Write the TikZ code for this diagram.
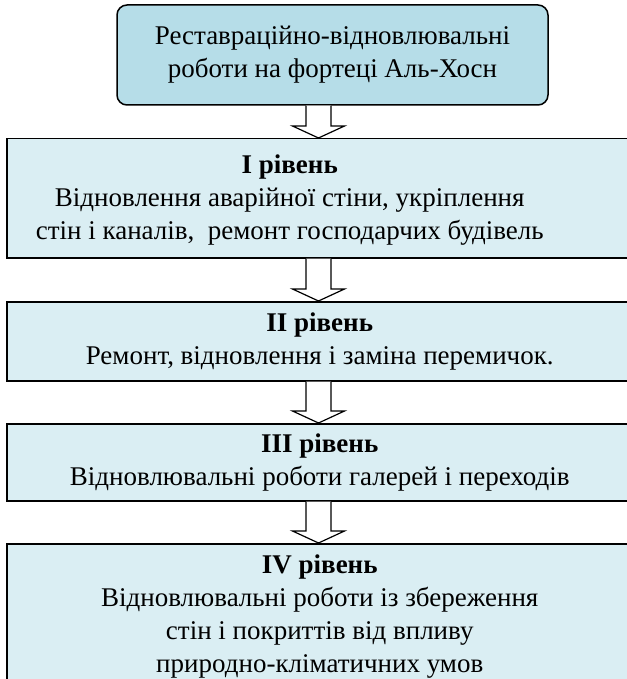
\documentclass[tikz,border=0pt]{standalone}
\usepackage{fontspec}
\setmainfont{Liberation Serif}
\usetikzlibrary{positioning,calc}
\definecolor{boxteal}{HTML}{B6DDE8}
\definecolor{lightteal}{HTML}{DAEEF3}

\begin{document}
\begin{tikzpicture}[x=1pt, y=-1pt,
  every node/.style={font=\fontsize{27}{33}\selectfont, align=center},
  lvlbox/.style={draw=black, line width=1.5pt, fill=lightteal, minimum width=626pt, anchor=north west, inner sep=0pt},
  topbox/.style={draw=black, line width=1.5pt, fill=boxteal, rounded corners=10pt, minimum width=431pt, minimum height=100pt, inner sep=0pt},
  blockarrow/.style={draw=black, line width=1.2pt, fill=white, line join=miter}]
  \useasboundingbox (0,0) rectangle (626,679);
  % Reconstruction works and their levels
  \node[topbox] (top) at (332.5,55) {Реставраційно-відновлювальні\\роботи на фортеці Аль-Хосн};

  \node[lvlbox, minimum height=119pt, label={[name=lvl1txt, xshift=-30pt, yshift=-2pt]center:{\textbf{І рівень}\\ Відновлення аварійної стіни, укріплення\\стін і каналів,\ \ ремонт господарчих будівель}}] (lvl1) at (6,138) {};
  \node[lvlbox, minimum height=79pt] (lvl2) at (6,301) {\textbf{ІІ рівень}\\Ремонт, відновлення і заміна перемичок.};
  \node[lvlbox, minimum height=77pt] (lvl3) at (6,423) {\textbf{ІІІ рівень}\\Відновлювальні роботи галерей і переходів};
  \node[lvlbox, minimum height=146pt] (lvl4) at (6,543) {\textbf{IV рівень}\\Відновлювальні роботи із збереження\\стін і покриттів від впливу\\природно-кліматичних умов};

  \coordinate (axis) at (318.5,0);

  % block arrows between the levels
  \foreach \src/\dst in {top/lvl1, lvl1/lvl2, lvl2/lvl3, lvl3/lvl4}
    \draw[blockarrow] ($(\src.south -| axis)+(-12.5,0)$) -- ($(\dst.north -| axis)+(-12.5,-12)$)
      -- ++(-13.5,0) -- (\dst.north -| axis) -- ($(\dst.north -| axis)+(26,-12)$)
      -- ++(-13.5,0) -- ($(\src.south -| axis)+(12.5,0)$);
\end{tikzpicture}
\end{document}
